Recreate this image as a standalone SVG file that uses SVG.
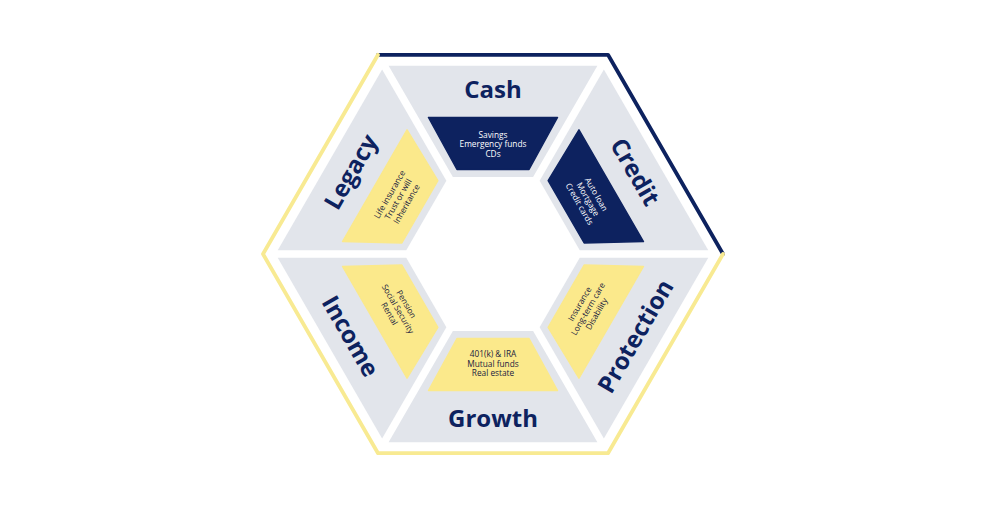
<svg xmlns="http://www.w3.org/2000/svg" width="992" height="510" viewBox="0 0 992 510">
<defs>
<style>
.seg{fill:#e2e5eb}
.navy{fill:#0d225f;stroke:#0d225f;stroke-width:1.5;stroke-linejoin:round}
.yel{fill:#fbe98b;stroke:#fbe98b;stroke-width:1.5;stroke-linejoin:round}
.lbl{font-family:"Open Sans","Liberation Sans",sans-serif;font-weight:700;font-size:24px;fill:#0d225f;text-anchor:middle}
.sm{font-family:"Open Sans","Liberation Sans",sans-serif;font-size:8.3px;text-anchor:middle}
.w{fill:#ffffff}
.d{fill:#1a2140}
</style>
</defs>
<rect width="992" height="510" fill="#ffffff"/>
<g id="outline" fill="none" stroke-width="3.8" stroke-linejoin="round" stroke-linecap="round">
<path d="M378,54.8 L608,54.8 L723,254" stroke="#0d225f"/>
<path d="M723,254 L608,453.2 L378,453.2 L263,254 L378,54.8" stroke="#f8ea92"/>
</g>
<g id="cash">
<path class="seg" d="M388.6,65.7 L597.4,65.7 L533.1,177 L452.9,177 Z"/>
<path class="navy" d="M428.5,117.5 L557.5,117.5 L529,169.5 L457,169.5 Z"/>
<text class="lbl" x="493" y="98.3">Cash</text>
<text class="sm w"><tspan x="493" y="137.6">Savings</tspan><tspan x="493" y="147.3">Emergency funds</tspan><tspan x="493" y="157">CDs</tspan></text>
</g>
<g id="credit" transform="rotate(60 493 254)">
<path class="seg" d="M388.6,65.7 L597.4,65.7 L533.1,177 L452.9,177 Z"/>
<path class="navy" d="M428.5,117.5 L557.5,117.5 L529,169.5 L457,169.5 Z"/>
<text class="lbl" x="493" y="98.3">Credit</text>
<text class="sm w"><tspan x="493" y="137.6">Auto loan</tspan><tspan x="493" y="147.3">Mortgage</tspan><tspan x="493" y="157">Credit cards</tspan></text>
</g>
<g id="protection" transform="rotate(120 493 254)">
<path class="seg" d="M388.6,65.7 L597.4,65.7 L533.1,177 L452.9,177 Z"/>
<path class="yel" d="M428.5,117.5 L557.5,117.5 L529,169.5 L457,169.5 Z"/>
<text class="lbl" x="493" y="98.3" transform="rotate(180 493 89.7)">Protection</text>
<text class="sm d" transform="rotate(180 493 144.3)"><tspan x="493" y="137.6">Insurance</tspan><tspan x="493" y="147.3">Long-term care</tspan><tspan x="493" y="157">Disability</tspan></text>
</g>
<g id="growth" transform="rotate(180 493 254)">
<path class="seg" d="M388.6,65.7 L597.4,65.7 L533.1,177 L452.9,177 Z"/>
<path class="yel" d="M428.5,117.5 L557.5,117.5 L529,169.5 L457,169.5 Z"/>
<text class="lbl" x="493" y="98.3" transform="rotate(180 493 89.7)">Growth</text>
<text class="sm d" transform="rotate(180 493 144.3)"><tspan x="493" y="137.6">401(k) &amp; IRA</tspan><tspan x="493" y="147.3">Mutual funds</tspan><tspan x="493" y="157">Real estate</tspan></text>
</g>
<g id="income" transform="rotate(240 493 254)">
<path class="seg" d="M388.6,65.7 L597.4,65.7 L533.1,177 L452.9,177 Z"/>
<path class="yel" d="M428.5,117.5 L557.5,117.5 L529,169.5 L457,169.5 Z"/>
<text class="lbl" x="493" y="98.3" transform="rotate(180 493 89.7)">Income</text>
<text class="sm d" transform="rotate(180 493 144.3)"><tspan x="493" y="137.6">Pension</tspan><tspan x="493" y="147.3">Social Security</tspan><tspan x="493" y="157">Rental</tspan></text>
</g>
<g id="legacy" transform="rotate(300 493 254)">
<path class="seg" d="M388.6,65.7 L597.4,65.7 L533.1,177 L452.9,177 Z"/>
<path class="yel" d="M428.5,117.5 L557.5,117.5 L529,169.5 L457,169.5 Z"/>
<text class="lbl" x="493" y="98.3">Legacy</text>
<text class="sm d"><tspan x="493" y="137.6">Life insurance</tspan><tspan x="493" y="147.3">Trust or will</tspan><tspan x="493" y="157">Inheritance</tspan></text>
</g>
</svg>
